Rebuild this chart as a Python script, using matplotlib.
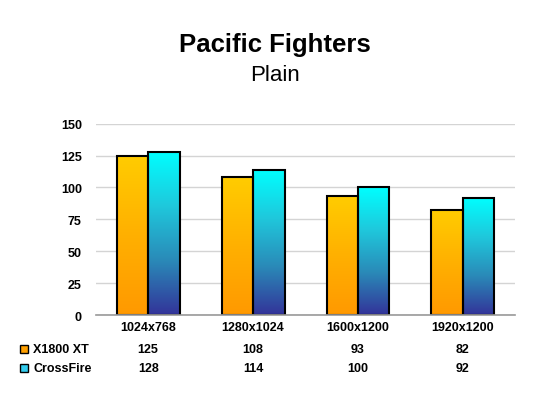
import matplotlib
matplotlib.use("Agg")
import matplotlib.pyplot as plt
import numpy as np
from matplotlib.colors import LinearSegmentedColormap
from matplotlib.patches import Rectangle

plt.rcParams["font.family"] = ["Liberation Sans", "DejaVu Sans"]

categories = ["1024x768", "1280x1024", "1600x1200", "1920x1200"]
series_names = ["X1800 XT", "CrossFire"]
x1800 = [125, 108, 93, 82]
crossfire = [128, 114, 100, 92]
yticks = [0, 25, 50, 75, 100, 125, 150]

grad_orange = LinearSegmentedColormap.from_list("orng", ["#ff9900", "#ffb000", "#ffcc00"])
grad_cyan = LinearSegmentedColormap.from_list("cyan", ["#333399", "#2a8ab8", "#1fc8dc", "#00ffff"])
cmaps = [grad_orange, grad_cyan]
swatches = ["#ffa000", "#33ccee"]

fig = plt.figure(figsize=(5.5, 4.1), dpi=100)
ax = fig.add_axes([0.174, 0.229, 0.763, 0.467])

x = np.arange(len(categories))
width = 0.3
grad = np.linspace(0, 1, 256).reshape(-1, 1)

for i, vals in enumerate([x1800, crossfire]):
    offset = (i - 0.5) * width
    bars = ax.bar(x + offset, vals, width, facecolor="none", edgecolor="black",
                  linewidth=1.5, zorder=3)
    for b in bars:
        x0, w, h = b.get_x(), b.get_width(), b.get_height()
        ax.imshow(grad, extent=[x0, x0 + w, 0, h], origin="lower", aspect="auto",
                  cmap=cmaps[i], zorder=2)

ax.set_xlim(-0.5, len(categories) - 0.5)
ax.set_ylim(0, 150)
ax.set_yticks(yticks)
ax.set_yticklabels([str(t) for t in yticks], fontsize=9, fontweight="bold")
ax.tick_params(axis="y", length=0, pad=10)
ax.set_xticks([])
ax.grid(True, axis="y", color="#d4d4d4", linewidth=1, zorder=0)
for s in ["left", "right", "top"]:
    ax.spines[s].set_visible(False)
ax.spines["bottom"].set_color("#999999")
ax.spines["bottom"].set_linewidth(1.2)
ax.spines["bottom"].set_zorder(4)

# data table under the chart
trans = ax.get_xaxis_transform()
for j, cat in enumerate(categories):
    ax.text(j, -0.063, cat, transform=trans, ha="center", va="center",
            fontsize=9, fontweight="bold", clip_on=False)
for i, vals in enumerate([x1800, crossfire]):
    yrow = [-0.178, -0.277][i]
    for j, v in enumerate(vals):
        ax.text(j, yrow, str(v), transform=trans, ha="center", va="center",
                fontsize=9, fontweight="bold", clip_on=False)
    yfig = 0.229 + yrow * 0.467
    fig.patches.append(Rectangle((20 / 550, yfig - 4 / 410), 8 / 550, 8 / 410,
                                 transform=fig.transFigure, facecolor=swatches[i],
                                 edgecolor="black", linewidth=1))
    fig.text(33 / 550, yfig, series_names[i], ha="left", va="center",
             fontsize=9, fontweight="bold")

fig.text(0.5, 1 - 45 / 410, "Pacific Fighters", ha="center", va="center",
         fontsize=18.5, fontweight="bold")
fig.text(0.5, 1 - 76 / 410, "Plain", ha="center", va="center", fontsize=16)

fig.savefig("out.png", dpi=100)
